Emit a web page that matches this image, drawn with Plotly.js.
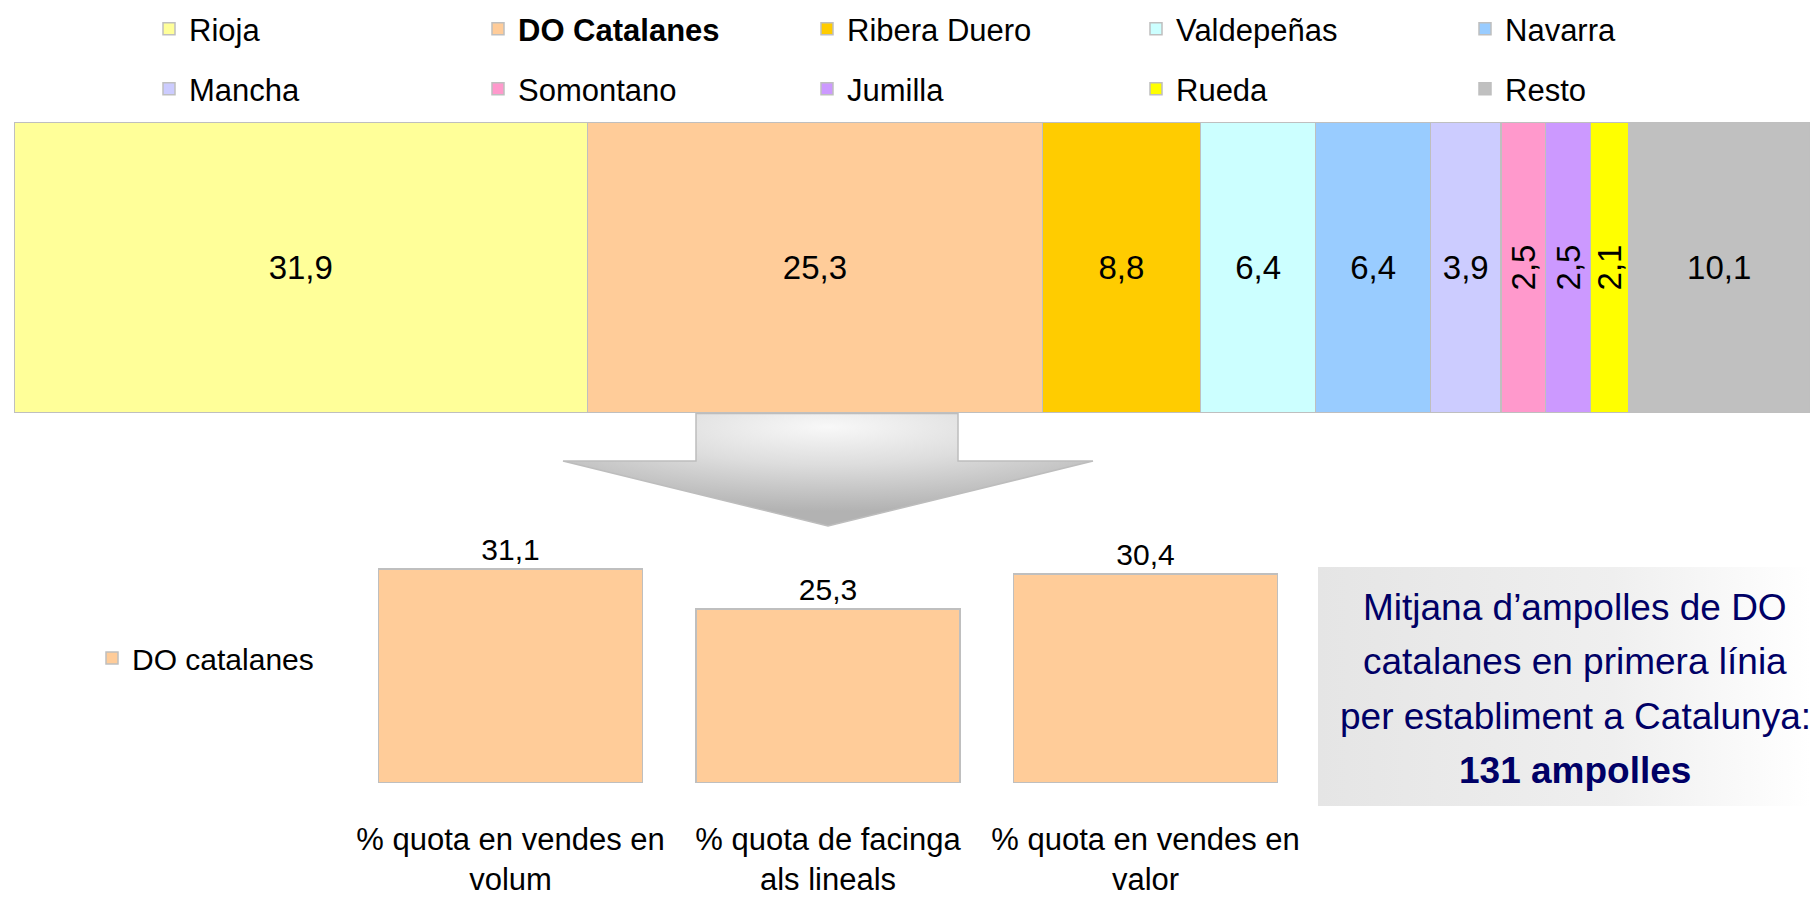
<!DOCTYPE html>
<html>
<head>
<meta charset="utf-8">
<script src="https://cdn.plot.ly/plotly-3.0.1.min.js"></script>
<style>
html, body { margin: 0; padding: 0; background: #ffffff; }
#chart { width: 1810px; height: 899px; }
</style>
</head>
<body>
<div id="chart"></div>
<script>
// ---------- data ----------
const regions = ['Rioja', 'DO Catalanes', 'Ribera Duero', 'Valdepeñas', 'Navarra',
                 'Mancha', 'Somontano', 'Jumilla', 'Rueda', 'Resto'];
const regionShares = [31.9, 25.3, 8.8, 6.4, 6.4, 3.9, 2.5, 2.5, 2.1, 10.1];
const regionColors = ['#ffff99', '#ffcc99', '#ffcc00', '#ccffff', '#99ccff',
                      '#ccccff', '#ff99cc', '#cc99ff', '#ffff00', '#c0c0c0'];
const metrics = ['% quota en vendes en<br>volum', '% quota de facinga<br>als lineals', '% quota en vendes en<br>valor'];
const catalanShares = [31.1, 25.3, 30.4];
const catalanName = 'DO catalanes';
const boxLines = ['Mitjana d’ampolles de DO', 'catalanes en primera línia', 'per establiment a Catalunya:', '<b>131 ampolles</b>'];

// ---------- styling ----------
const FONT = '"Liberation Sans", Arial, sans-serif';
const W = 1810, H = 899;
const px = v => v / W;           // pixel x -> paper
const py = v => 1 - v / H;       // pixel y -> paper
const total = regionShares.reduce((a, b) => a + b, 0);

const traces = [];
regions.forEach((r, i) => {
  traces.push({
    type: 'bar', orientation: 'h',
    x: [regionShares[i]], y: ['share'],
    xaxis: 'x', yaxis: 'y',
    name: i === 1 ? '<b>' + r + '</b>' : r,
    width: 1,
    marker: { color: regionColors[i], line: { color: '#bfbfbf', width: 1.5 } },
    texttemplate: '%{x:.1f}',
    textposition: 'inside',
    insidetextanchor: 'middle',
    textangle: regionShares[i] < 3 ? -90 : 0,
    constraintext: 'none',
    textfont: { family: FONT, size: 33, color: '#000000' },
    legend: i < 5 ? 'legend' : 'legend2',
    hoverinfo: 'skip'
  });
});

traces.push({
  type: 'bar',
  x: metrics, y: catalanShares,
  xaxis: 'x2', yaxis: 'y2',
  name: catalanName,
  width: 0.83,
  marker: { color: '#ffcc99', line: { color: '#bfbfbf', width: 1.5 } },
  texttemplate: '%{y:.1f}',
  textposition: 'outside',
  cliponaxis: false,
  textfont: { family: FONT, size: 30, color: '#000000' },
  legend: 'legend3',
  hoverinfo: 'skip'
});

const arrowSvg = '<svg xmlns="http://www.w3.org/2000/svg" width="532" height="114" viewBox="0 0 532 114" preserveAspectRatio="none">' +
  '<defs><radialGradient id="g" cx="0.5" cy="0.12" r="0.75">' +
  '<stop offset="0" stop-color="#f8f8f8"/><stop offset="0.45" stop-color="#dddddd"/><stop offset="1" stop-color="#b2b2b2"/>' +
  '</radialGradient></defs>' +
  '<path d="M134,0.5 L396,0.5 L396,48 L531,48 L266,113 L1,48 L134,48 Z" fill="url(#g)" stroke="#bdbdbd" stroke-width="1.5"/></svg>';
const boxSvg = '<svg xmlns="http://www.w3.org/2000/svg" width="492" height="239" viewBox="0 0 492 239" preserveAspectRatio="none">' +
  '<defs><linearGradient id="b" x1="0" y1="0" x2="1" y2="0">' +
  '<stop offset="0" stop-color="#e5e5e5"/><stop offset="0.6" stop-color="#efefef"/><stop offset="1" stop-color="#ffffff"/>' +
  '</linearGradient></defs><rect x="0" y="0" width="492" height="239" fill="url(#b)"/></svg>';
const svgUri = s => 'data:image/svg+xml;charset=utf-8,' + encodeURIComponent(s);

const legendBase = {
  orientation: 'h', xanchor: 'left', yanchor: 'middle',
  entrywidth: 284, entrywidthmode: 'pixels',
  font: { family: FONT, size: 31, color: '#000000' },
  bgcolor: 'rgba(0,0,0,0)', borderwidth: 0, traceorder: 'normal'
};

const boxLineY = [607, 661, 716, 770];
const annotations = boxLines.map((t, i) => ({
  xref: 'paper', yref: 'paper', x: px(1575), y: py(boxLineY[i]),
  xanchor: 'center', yanchor: 'middle', align: 'center', showarrow: false,
  text: t,
  font: { family: FONT, size: 37, color: '#000066' }
}));

const layout = {
  width: W, height: H,
  margin: { l: 0, r: 0, t: 0, b: 0 },
  paper_bgcolor: '#ffffff', plot_bgcolor: 'rgba(0,0,0,0)',
  separators: ',.',
  barmode: 'stack',
  hovermode: false,
  showlegend: true,
  font: { family: FONT, size: 31, color: '#000000' },
  xaxis: { domain: [px(14), 1], range: [0, total], visible: false, fixedrange: true },
  yaxis: { domain: [py(413), py(122)], range: [-0.5, 0.5], visible: false, fixedrange: true },
  xaxis2: {
    anchor: 'y2', domain: [px(351.75), px(1304.25)],
    showline: false, showgrid: false, zeroline: false, ticks: '',
    tickfont: { family: FONT, size: 31, color: '#000000' },
    ticklabelstandoff: 35, fixedrange: true
  },
  yaxis2: { anchor: 'x2', domain: [py(783), py(783 - 35 * 6.88)], range: [0, 35], visible: false, fixedrange: true },
  legend: Object.assign({}, legendBase, { x: px(149), y: py(29) }),
  legend2: Object.assign({}, legendBase, { x: px(149), y: py(89) }),
  legend3: Object.assign({}, legendBase, { x: px(92), y: py(658), font: { family: FONT, size: 30, color: '#000000' } }),
  images: [
    { source: svgUri(arrowSvg), xref: 'paper', yref: 'paper', x: px(562), y: py(413),
      sizex: 532 / W, sizey: 114 / H, xanchor: 'left', yanchor: 'top', sizing: 'stretch', layer: 'above' },
    { source: svgUri(boxSvg), xref: 'paper', yref: 'paper', x: px(1318), y: py(567),
      sizex: 492 / W, sizey: 239 / H, xanchor: 'left', yanchor: 'top', sizing: 'stretch', layer: 'below' }
  ],
  annotations: annotations
};

Plotly.newPlot('chart', traces, layout, { displayModeBar: false, staticPlot: true });
</script>
</body>
</html>
